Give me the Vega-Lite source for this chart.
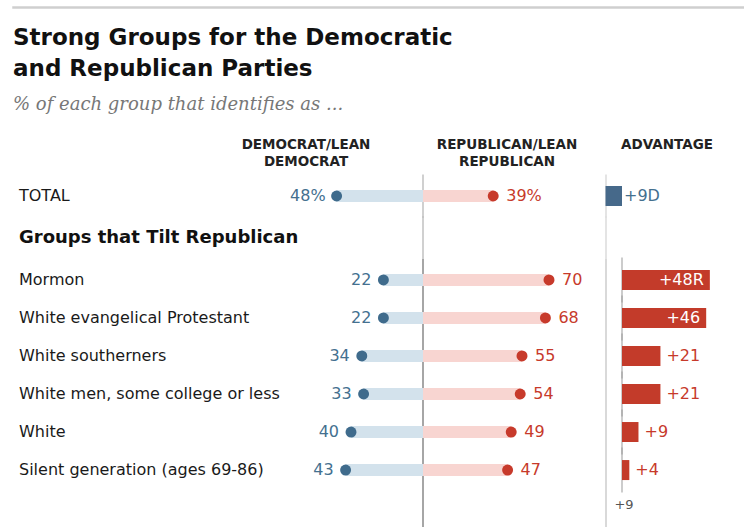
{
  "$schema": "https://vega.github.io/schema/vega-lite/v6.json",
  "padding": {"left": 12, "top": 6, "right": 0, "bottom": 0},
  "background": "white",
  "config": {"view": {"stroke": null}, "font": "DejaVu Sans", "text": {"font": "DejaVu Sans"}},
  "datasets": {
    "main": [
      {"group": "TOTAL", "section": "top", "kind": "row", "dem": 48, "rep": 39, "dem_label": "48%", "rep_label": "39%", "adv": 9, "party": "D", "adv_label": "+9D"},
      {"group": "Groups that Tilt Republican", "section": "top", "kind": "header"},
      {"group": "Mormon", "section": "groups", "kind": "row", "dem": 22, "rep": 70, "dem_label": "22", "rep_label": "70", "adv": 48, "party": "R", "adv_label": "+48R"},
      {"group": "White evangelical Protestant", "section": "groups", "kind": "row", "dem": 22, "rep": 68, "dem_label": "22", "rep_label": "68", "adv": 46, "party": "R", "adv_label": "+46"},
      {"group": "White southerners", "section": "groups", "kind": "row", "dem": 34, "rep": 55, "dem_label": "34", "rep_label": "55", "adv": 21, "party": "R", "adv_label": "+21"},
      {"group": "White men, some college or less", "section": "groups", "kind": "row", "dem": 33, "rep": 54, "dem_label": "33", "rep_label": "54", "adv": 21, "party": "R", "adv_label": "+21"},
      {"group": "White", "section": "groups", "kind": "row", "dem": 40, "rep": 49, "dem_label": "40", "rep_label": "49", "adv": 9, "party": "R", "adv_label": "+9"},
      {"group": "Silent generation (ages 69-86)", "section": "groups", "kind": "row", "dem": 43, "rep": 47, "dem_label": "43", "rep_label": "47", "adv": 4, "party": "R", "adv_label": "+4"}
    ]
  },
  "spacing": 18,
  "vconcat": [
    {
      "width": 732,
      "height": 1,
      "view": {"stroke": "#cfcfcf", "strokeWidth": 1.5},
      "data": {"values": [{}]},
      "mark": {"type": "point", "size": 0, "opacity": 0},
      "encoding": {},
      "title": {
        "text": ["Strong Groups for the Democratic", "and Republican Parties"],
        "subtitle": "% of each group that identifies as ...",
        "orient": "bottom",
        "anchor": "start",
        "font": "DejaVu Sans",
        "fontSize": 23,
        "fontWeight": "bold",
        "color": "#111111",
        "lineHeight": 31,
        "offset": 19,
        "subtitleFont": "DejaVu Serif",
        "subtitleFontStyle": "italic",
        "subtitleFontSize": 18,
        "subtitleColor": "#777777",
        "subtitlePadding": 15
      }
    },
    {
      "spacing": 0,
      "bounds": "flush",
      "vconcat": [
        {
          "width": 732,
          "height": 126,
          "data": {"name": "main"},
          "transform": [{"filter": "datum.section === 'top'"}],
          "resolve": {"scale": {"x": "independent"}},
          "layer": [
            {
              "mark": {"type": "tick", "color": "#a6a6a6", "thickness": 1.5, "size": 43},
              "encoding": {
                "x": {"datum": 0, "type": "quantitative", "scale": {"domain": [-227.78, 178.89], "nice": false, "zero": false}, "axis": null},
                "y": {"field": "group", "type": "nominal", "scale": {"type": "band", "domain": ["hdr", "TOTAL", "Groups that Tilt Republican"], "paddingInner": 0, "paddingOuter": 0}, "axis": null}
              }
            },
            {
              "mark": {"type": "tick", "color": "#d9d9d9", "thickness": 2, "size": 43},
              "encoding": {
                "x": {"datum": -8.75, "type": "quantitative", "scale": {"domain": [-332.79, 67.21], "nice": false, "zero": false}, "axis": null},
                "y": {"field": "group", "type": "nominal", "scale": {"type": "band", "domain": ["hdr", "TOTAL", "Groups that Tilt Republican"], "paddingInner": 0, "paddingOuter": 0}, "axis": null}
              }
            },
            {
              "transform": [{"filter": "datum.kind === 'row'"}],
              "mark": {"type": "bar", "color": "#d3e2ec", "size": 12},
              "encoding": {
                "x": {"field": "dem", "type": "quantitative", "scale": {"domain": [-178.89, 227.78], "reverse": true, "nice": false, "zero": false}, "axis": null},
                "x2": {"datum": 0},
                "y": {"field": "group", "type": "nominal", "scale": {"type": "band", "domain": ["hdr", "TOTAL", "Groups that Tilt Republican"], "paddingInner": 0, "paddingOuter": 0}, "axis": null}
              }
            },
            {
              "transform": [{"filter": "datum.kind === 'row'"}],
              "mark": {"type": "bar", "color": "#f8d5d1", "size": 12},
              "encoding": {
                "x": {"field": "rep", "type": "quantitative", "scale": {"domain": [-227.78, 178.89], "nice": false, "zero": false}, "axis": null},
                "x2": {"datum": 0},
                "y": {"field": "group", "type": "nominal", "scale": {"type": "band", "domain": ["hdr", "TOTAL", "Groups that Tilt Republican"], "paddingInner": 0, "paddingOuter": 0}, "axis": null}
              }
            },
            {
              "transform": [{"filter": "datum.kind === 'row'"}],
              "mark": {"type": "point", "filled": true, "size": 120, "color": "#3f6b8c", "opacity": 1},
              "encoding": {
                "x": {"field": "dem", "type": "quantitative", "scale": {"domain": [-178.89, 227.78], "reverse": true, "nice": false, "zero": false}, "axis": null},
                "y": {"field": "group", "type": "nominal", "scale": {"type": "band", "domain": ["hdr", "TOTAL", "Groups that Tilt Republican"], "paddingInner": 0, "paddingOuter": 0}, "axis": null}
              }
            },
            {
              "transform": [{"filter": "datum.kind === 'row'"}],
              "mark": {"type": "point", "filled": true, "size": 120, "color": "#c73a2b", "opacity": 1},
              "encoding": {
                "x": {"field": "rep", "type": "quantitative", "scale": {"domain": [-227.78, 178.89], "nice": false, "zero": false}, "axis": null},
                "y": {"field": "group", "type": "nominal", "scale": {"type": "band", "domain": ["hdr", "TOTAL", "Groups that Tilt Republican"], "paddingInner": 0, "paddingOuter": 0}, "axis": null}
              }
            },
            {
              "transform": [{"filter": "datum.kind === 'row'"}],
              "mark": {"type": "text", "align": "right", "baseline": "middle", "dx": -11, "fontSize": 16, "color": "#44708f"},
              "encoding": {
                "x": {"field": "dem", "type": "quantitative", "scale": {"domain": [-178.89, 227.78], "reverse": true, "nice": false, "zero": false}, "axis": null},
                "y": {"field": "group", "type": "nominal", "scale": {"type": "band", "domain": ["hdr", "TOTAL", "Groups that Tilt Republican"], "paddingInner": 0, "paddingOuter": 0}, "axis": null},
                "text": {"field": "dem_label"}
              }
            },
            {
              "transform": [{"filter": "datum.kind === 'row'"}],
              "mark": {"type": "text", "align": "left", "baseline": "middle", "dx": 13, "fontSize": 16, "color": "#c73a2b"},
              "encoding": {
                "x": {"field": "rep", "type": "quantitative", "scale": {"domain": [-227.78, 178.89], "nice": false, "zero": false}, "axis": null},
                "y": {"field": "group", "type": "nominal", "scale": {"type": "band", "domain": ["hdr", "TOTAL", "Groups that Tilt Republican"], "paddingInner": 0, "paddingOuter": 0}, "axis": null},
                "text": {"field": "rep_label"}
              }
            },
            {
              "transform": [{"filter": "datum.party === 'D'"}],
              "mark": {"type": "bar", "color": "#46698a", "size": 20},
              "encoding": {
                "x": {"field": "adv", "type": "quantitative", "scale": {"domain": [-67.21, 332.79], "reverse": true, "nice": false, "zero": false}, "axis": null},
                "x2": {"datum": 0},
                "y": {"field": "group", "type": "nominal", "scale": {"type": "band", "domain": ["hdr", "TOTAL", "Groups that Tilt Republican"], "paddingInner": 0, "paddingOuter": 0}, "axis": null}
              }
            },
            {
              "transform": [{"filter": "datum.party === 'D'"}],
              "mark": {"type": "text", "align": "left", "baseline": "middle", "dx": 2, "fontSize": 16, "color": "#44708f"},
              "encoding": {
                "x": {"datum": 0, "type": "quantitative", "scale": {"domain": [-67.21, 332.79], "reverse": true, "nice": false, "zero": false}, "axis": null},
                "y": {"field": "group", "type": "nominal", "scale": {"type": "band", "domain": ["hdr", "TOTAL", "Groups that Tilt Republican"], "paddingInner": 0, "paddingOuter": 0}, "axis": null},
                "text": {"field": "adv_label"}
              }
            },
            {
              "transform": [{"filter": "datum.kind === 'row'"}],
              "mark": {"type": "text", "align": "left", "baseline": "middle", "fontSize": 16, "color": "#1a1a1a"},
              "encoding": {
                "x": {"datum": -224.45, "type": "quantitative", "scale": {"domain": [-227.78, 178.89], "nice": false, "zero": false}, "axis": null},
                "y": {"field": "group", "type": "nominal", "scale": {"type": "band", "domain": ["hdr", "TOTAL", "Groups that Tilt Republican"], "paddingInner": 0, "paddingOuter": 0}, "axis": null},
                "text": {"field": "group"}
              }
            },
            {
              "transform": [{"filter": "datum.kind === 'header'"}],
              "mark": {"type": "text", "align": "left", "baseline": "middle", "fontSize": 18, "fontWeight": "bold", "color": "#111111"},
              "encoding": {
                "x": {"datum": -224.45, "type": "quantitative", "scale": {"domain": [-227.78, 178.89], "nice": false, "zero": false}, "axis": null},
                "y": {"field": "group", "type": "nominal", "scale": {"type": "band", "domain": ["hdr", "TOTAL", "Groups that Tilt Republican"], "paddingInner": 0, "paddingOuter": 0}, "axis": null},
                "text": {"field": "group"}
              }
            },
            {
              "data": {"values": [{"head": "DEMOCRAT/LEAN\nDEMOCRAT"}]},
              "mark": {"type": "text", "align": "center", "baseline": "bottom", "dy": -2, "fontSize": 13.5, "fontWeight": "bold", "lineBreak": "\n", "lineHeight": 17, "color": "#222222"},
              "encoding": {
                "x": {"datum": 65, "type": "quantitative", "scale": {"domain": [-178.89, 227.78], "reverse": true, "nice": false, "zero": false}, "axis": null},
                "y": {"datum": "hdr", "type": "nominal", "scale": {"type": "band", "domain": ["hdr", "TOTAL", "Groups that Tilt Republican"], "paddingInner": 0, "paddingOuter": 0}, "axis": null},
                "text": {"field": "head"}
              }
            },
            {
              "data": {"values": [{"head": "REPUBLICAN/LEAN\nREPUBLICAN"}]},
              "mark": {"type": "text", "align": "center", "baseline": "bottom", "dy": -2, "fontSize": 13.5, "fontWeight": "bold", "lineBreak": "\n", "lineHeight": 17, "color": "#222222"},
              "encoding": {
                "x": {"datum": 46.67, "type": "quantitative", "scale": {"domain": [-227.78, 178.89], "nice": false, "zero": false}, "axis": null},
                "y": {"datum": "hdr", "type": "nominal", "scale": {"type": "band", "domain": ["hdr", "TOTAL", "Groups that Tilt Republican"], "paddingInner": 0, "paddingOuter": 0}, "axis": null},
                "text": {"field": "head"}
              }
            },
            {
              "data": {"values": [{"head": "ADVANTAGE"}]},
              "mark": {"type": "text", "align": "center", "baseline": "bottom", "dy": -2, "fontSize": 13.5, "fontWeight": "bold", "color": "#222222"},
              "encoding": {
                "x": {"datum": 24.6, "type": "quantitative", "scale": {"domain": [-332.79, 67.21], "nice": false, "zero": false}, "axis": null},
                "y": {"datum": "hdr", "type": "nominal", "scale": {"type": "band", "domain": ["hdr", "TOTAL", "Groups that Tilt Republican"], "paddingInner": 0, "paddingOuter": 0}, "axis": null},
                "text": {"field": "head"}
              }
            }
          ]
        },
        {
          "width": 732,
          "height": 270,
          "data": {"name": "main"},
          "transform": [{"filter": "datum.section === 'groups'"}],
          "resolve": {"scale": {"x": "independent"}},
          "layer": [
            {
              "mark": {"type": "rule", "color": "#a6a6a6", "strokeWidth": 1.5},
              "encoding": {
                "x": {"datum": 0, "type": "quantitative", "scale": {"domain": [-227.78, 178.89], "nice": false, "zero": false}, "axis": null}
              }
            },
            {
              "mark": {"type": "rule", "color": "#d9d9d9", "strokeWidth": 2},
              "encoding": {
                "x": {"datum": -8.75, "type": "quantitative", "scale": {"domain": [-332.79, 67.21], "nice": false, "zero": false}, "axis": null}
              }
            },
            {
              "mark": {"type": "tick", "color": "#9e9e9e", "thickness": 1.5, "size": 45},
              "encoding": {
                "x": {"datum": 0, "type": "quantitative", "scale": {"domain": [-332.79, 67.21], "nice": false, "zero": false}, "axis": null},
                "y": {"field": "group", "type": "nominal", "scale": {"type": "band", "domain": ["Mormon", "White evangelical Protestant", "White southerners", "White men, some college or less", "White", "Silent generation (ages 69-86)", "foot"], "paddingInner": 0, "paddingOuter": 0.05}, "axis": null}
              }
            },
            {
              "mark": {"type": "bar", "color": "#d3e2ec", "size": 12},
              "encoding": {
                "x": {"field": "dem", "type": "quantitative", "scale": {"domain": [-178.89, 227.78], "reverse": true, "nice": false, "zero": false}, "axis": null},
                "x2": {"datum": 0},
                "y": {"field": "group", "type": "nominal", "scale": {"type": "band", "domain": ["Mormon", "White evangelical Protestant", "White southerners", "White men, some college or less", "White", "Silent generation (ages 69-86)", "foot"], "paddingInner": 0, "paddingOuter": 0.05}, "axis": null}
              }
            },
            {
              "mark": {"type": "bar", "color": "#f8d5d1", "size": 12},
              "encoding": {
                "x": {"field": "rep", "type": "quantitative", "scale": {"domain": [-227.78, 178.89], "nice": false, "zero": false}, "axis": null},
                "x2": {"datum": 0},
                "y": {"field": "group", "type": "nominal", "scale": {"type": "band", "domain": ["Mormon", "White evangelical Protestant", "White southerners", "White men, some college or less", "White", "Silent generation (ages 69-86)", "foot"], "paddingInner": 0, "paddingOuter": 0.05}, "axis": null}
              }
            },
            {
              "mark": {"type": "point", "filled": true, "size": 120, "color": "#3f6b8c", "opacity": 1},
              "encoding": {
                "x": {"field": "dem", "type": "quantitative", "scale": {"domain": [-178.89, 227.78], "reverse": true, "nice": false, "zero": false}, "axis": null},
                "y": {"field": "group", "type": "nominal", "scale": {"type": "band", "domain": ["Mormon", "White evangelical Protestant", "White southerners", "White men, some college or less", "White", "Silent generation (ages 69-86)", "foot"], "paddingInner": 0, "paddingOuter": 0.05}, "axis": null}
              }
            },
            {
              "mark": {"type": "point", "filled": true, "size": 120, "color": "#c73a2b", "opacity": 1},
              "encoding": {
                "x": {"field": "rep", "type": "quantitative", "scale": {"domain": [-227.78, 178.89], "nice": false, "zero": false}, "axis": null},
                "y": {"field": "group", "type": "nominal", "scale": {"type": "band", "domain": ["Mormon", "White evangelical Protestant", "White southerners", "White men, some college or less", "White", "Silent generation (ages 69-86)", "foot"], "paddingInner": 0, "paddingOuter": 0.05}, "axis": null}
              }
            },
            {
              "mark": {"type": "text", "align": "right", "baseline": "middle", "dx": -12, "fontSize": 16, "color": "#44708f"},
              "encoding": {
                "x": {"field": "dem", "type": "quantitative", "scale": {"domain": [-178.89, 227.78], "reverse": true, "nice": false, "zero": false}, "axis": null},
                "y": {"field": "group", "type": "nominal", "scale": {"type": "band", "domain": ["Mormon", "White evangelical Protestant", "White southerners", "White men, some college or less", "White", "Silent generation (ages 69-86)", "foot"], "paddingInner": 0, "paddingOuter": 0.05}, "axis": null},
                "text": {"field": "dem_label"}
              }
            },
            {
              "mark": {"type": "text", "align": "left", "baseline": "middle", "dx": 13, "fontSize": 16, "color": "#c73a2b"},
              "encoding": {
                "x": {"field": "rep", "type": "quantitative", "scale": {"domain": [-227.78, 178.89], "nice": false, "zero": false}, "axis": null},
                "y": {"field": "group", "type": "nominal", "scale": {"type": "band", "domain": ["Mormon", "White evangelical Protestant", "White southerners", "White men, some college or less", "White", "Silent generation (ages 69-86)", "foot"], "paddingInner": 0, "paddingOuter": 0.05}, "axis": null},
                "text": {"field": "rep_label"}
              }
            },
            {
              "mark": {"type": "bar", "color": "#c33b2a", "size": 20},
              "encoding": {
                "x": {"field": "adv", "type": "quantitative", "scale": {"domain": [-332.79, 67.21], "nice": false, "zero": false}, "axis": null},
                "x2": {"datum": 0},
                "y": {"field": "group", "type": "nominal", "scale": {"type": "band", "domain": ["Mormon", "White evangelical Protestant", "White southerners", "White men, some college or less", "White", "Silent generation (ages 69-86)", "foot"], "paddingInner": 0, "paddingOuter": 0.05}, "axis": null}
              }
            },
            {
              "transform": [{"filter": "datum.adv < 40"}],
              "mark": {"type": "text", "align": "left", "baseline": "middle", "dx": 6, "fontSize": 16, "color": "#c73a2b"},
              "encoding": {
                "x": {"field": "adv", "type": "quantitative", "scale": {"domain": [-332.79, 67.21], "nice": false, "zero": false}, "axis": null},
                "y": {"field": "group", "type": "nominal", "scale": {"type": "band", "domain": ["Mormon", "White evangelical Protestant", "White southerners", "White men, some college or less", "White", "Silent generation (ages 69-86)", "foot"], "paddingInner": 0, "paddingOuter": 0.05}, "axis": null},
                "text": {"field": "adv_label"}
              }
            },
            {
              "transform": [{"filter": "datum.adv >= 40"}],
              "mark": {"type": "text", "align": "right", "baseline": "middle", "dx": -6, "fontSize": 16, "color": "#ffffff"},
              "encoding": {
                "x": {"field": "adv", "type": "quantitative", "scale": {"domain": [-332.79, 67.21], "nice": false, "zero": false}, "axis": null},
                "y": {"field": "group", "type": "nominal", "scale": {"type": "band", "domain": ["Mormon", "White evangelical Protestant", "White southerners", "White men, some college or less", "White", "Silent generation (ages 69-86)", "foot"], "paddingInner": 0, "paddingOuter": 0.05}, "axis": null},
                "text": {"field": "adv_label"}
              }
            },
            {
              "mark": {"type": "text", "align": "left", "baseline": "middle", "fontSize": 16, "color": "#1a1a1a"},
              "encoding": {
                "x": {"datum": -224.45, "type": "quantitative", "scale": {"domain": [-227.78, 178.89], "nice": false, "zero": false}, "axis": null},
                "y": {"field": "group", "type": "nominal", "scale": {"type": "band", "domain": ["Mormon", "White evangelical Protestant", "White southerners", "White men, some college or less", "White", "Silent generation (ages 69-86)", "foot"], "paddingInner": 0, "paddingOuter": 0.05}, "axis": null},
                "text": {"field": "group"}
              }
            },
            {
              "data": {"values": [{"note": "+9"}]},
              "mark": {"type": "text", "align": "center", "baseline": "middle", "dy": -3, "fontSize": 13, "color": "#555555"},
              "encoding": {
                "x": {"datum": 1.1, "type": "quantitative", "scale": {"domain": [-332.79, 67.21], "nice": false, "zero": false}, "axis": null},
                "y": {"datum": "foot", "type": "nominal", "scale": {"type": "band", "domain": ["Mormon", "White evangelical Protestant", "White southerners", "White men, some college or less", "White", "Silent generation (ages 69-86)", "foot"], "paddingInner": 0, "paddingOuter": 0.05}, "axis": null},
                "text": {"field": "note"}
              }
            }
          ]
        }
      ]
    }
  ]
}
